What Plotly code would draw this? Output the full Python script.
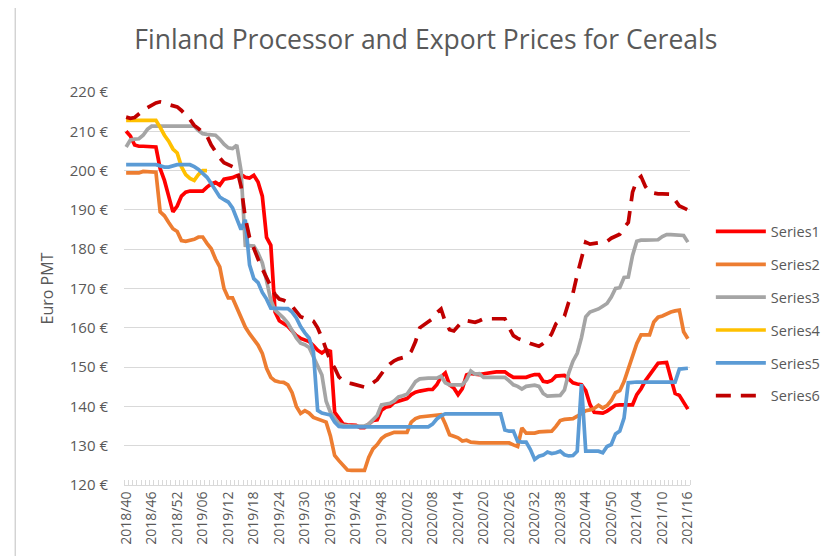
import plotly.graph_objects as go

# week labels 2018/40 .. 2021/16 (52 weeks per year)
weeks = ([f"2018/{w:02d}" for w in range(40, 53)]
         + [f"2019/{w:02d}" for w in range(1, 53)]
         + [f"2020/{w:02d}" for w in range(1, 53)]
         + [f"2021/{w:02d}" for w in range(1, 17)])

series1 = [210, 208.8, 206.5, 206.2, 206.2, 206.2, 206.2, 206, 200.5, 197.5,
           193.5, 189.5, 191, 193.5, 194.5, 194.8, 194.8, 194.8, 194.8, 195.8,
           196.6, 197, 196.3, 197.8, 198, 198.2, 198.7, 199, 198.3, 198.1,
           198.8, 197.1, 193.5, 183, 181, 164, 161.8, 161.2, 160.4, 159.2,
           158, 157.3, 157, 156.5, 155.5, 154.3, 153.6, 154.4, 154, 138.5,
           137, 135.5, 135.3, 135.3, 135.2, 134.6, 134.6, 135.5, 136.4, 136.6,
           139, 139.8, 140, 141, 141.4, 141.6, 142, 143, 143.6, 143.9,
           144.2, 144.3, 144.3, 145.5, 147.5, 148.5, 145.5, 144.7, 143, 144.5,
           148, 148.4, 148.2, 148.1, 148.3, 148.5, 148.7, 148.8, 148.8, 148.8,
           148, 147.4, 147.4, 147.4, 147.4, 147.8, 148.1, 148.1, 146.4, 146.2,
           146.6, 147.7, 147.8, 147.9, 147, 146, 145.7, 145.5, 144, 140.5,
           138.5, 138.3, 138.3, 138.8, 139.6, 140.3, 140.4, 140.4, 140.4, 140.4,
           143, 144.5, 146.5, 148, 149.5, 151, 151.1, 151.2, 147.2, 143.3,
           142.8, 141.2, 139.3]

series2 = [199.4, 199.4, 199.4, 199.4, 199.8, 199.8, 199.8, 199.6, 189.5, 188.5,
           186.8, 185.2, 184.5, 182.2, 182, 182.2, 182.5, 183.1, 183.1, 181.5,
           180.1, 177.5, 175.5, 170, 167.6, 167.6, 165, 162.5, 160.2, 158.5,
           157.2, 155.6, 153.5, 149.7, 147.4, 146.5, 146.2, 146.1, 145.5, 143.5,
           140, 138.2, 138.9, 138.3, 137.2, 136.8, 136.6, 136, 132.5, 127.5,
           126.2, 125, 123.8, 123.7, 123.7, 123.7, 123.7, 127, 129.2, 130.3,
           131.8, 132.6, 133.1, 133.4, 133.4, 133.4, 133.4, 136, 136.9, 137.3,
           137.4, 137.5, 137.6, 137.8, 137.9, 135.5, 132.8, 132.4, 132, 131.2,
           131.4, 130.9, 130.7, 130.7, 130.7, 130.7, 130.7, 130.7, 130.7, 130.7,
           130.7, 130.2, 129.8, 134.5, 133.2, 133.2, 133.2, 133.5, 133.6, 133.7,
           133.7, 134.9, 136.4, 136.7, 136.8, 136.9, 137.5, 138.3, 138.9, 139.1,
           139.5, 140.3, 139.6, 140.2, 141.5, 143.5, 144, 146.3, 149.5, 153,
           156, 158.2, 158.2, 158.2, 161.5, 162.7, 163, 163.6, 164, 164.3,
           164.5, 159, 157.2]

series3 = [206, 207.8, 208, 208.1, 209, 210.5, 211.3, 211.3, 211.3, 211.3,
           211.3, 211.3, 211.3, 211.3, 211.3, 211.5, 211.3, 210.2, 209.4, 209.2,
           209.1, 209, 208, 206.7, 205.8, 205.6, 206.5, 200, 181, 180.9,
           180.8, 179, 176.5, 172, 167, 164.5, 163.6, 162.5, 161.2, 159.2,
           157.4, 156.1, 155.7, 155, 152.5, 150.3, 148, 141.3, 138.5, 137,
           135.6, 135.2, 135, 135, 135, 135, 135, 135.5, 136.6, 137.7,
           140.4, 140.5, 140.8, 141.4, 142.4, 142.7, 143.1, 144.7, 146.3, 147,
           147.2, 147.2, 147.2, 147.2, 147.7, 146, 145.5, 145.5, 145.5, 145.5,
           146.8, 149, 148.2, 148.3, 147.4, 147.4, 147.4, 147.4, 147.4, 147.4,
           146.5, 145.5, 145.1, 144.4, 145.1, 145.3, 145.4, 145.1, 143.3, 142.6,
           142.6, 142.6, 142.8, 144.2, 148.5, 151.5, 153.5, 157.5, 162.8, 164,
           164.4, 164.8, 165.5, 166.2, 167.8, 170, 170.2, 172.8, 172.9, 178.4,
           182, 182.3, 182.3, 182.3, 182.3, 182.4, 183.2, 183.7, 183.7, 183.7,
           183.7, 183.5, 181.8]

series4 = [212.8, 212.8, 212.8, 212.8, 212.8, 212.8, 212.8, 212.8, 211, 209,
           207.5, 205.5, 204.5, 201, 199, 198, 197.5, 199, 200, 200] + [None] * 113

series5 = [201.5, 201.5, 201.5, 201.5, 201.5, 201.5, 201.5, 201.5, 201.2, 200.9,
           200.9, 201.3, 201.5, 201.5, 201.5, 201.5, 201, 200.3, 199.3, 198.3,
           196.7, 195, 193.3, 192.6, 192, 190.5, 188, 185, 187.5, 176,
           172.5, 171.5, 169, 167.3, 165, 164.9, 164.9, 164.9, 164.9, 164,
           162.5, 160.3, 158.7, 157.4, 154, 139, 138.3, 138, 137.8, 136,
           134.9, 134.8, 134.8, 134.8, 134.8, 134.8, 134.8, 134.8, 134.8, 134.8,
           134.8, 134.8, 134.8, 134.8, 134.8, 134.8, 134.8, 134.8, 134.8, 134.8,
           134.8, 134.8, 135.5, 136.8, 137.6, 138.1, 138.1, 138.1, 138.1, 138.1,
           138.1, 138.1, 138.1, 138.1, 138.1, 138.1, 138.1, 138.1, 138.1, 134,
           133.7, 133.7, 131.1, 130.9, 130.9, 129, 126.5, 127.3, 127.6, 128.4,
           128, 128.2, 128.6, 127.7, 127.4, 127.5, 128.6, 145.7, 128.6, 128.6,
           128.6, 128.6, 128.2, 129.8, 130.3, 133, 133.7, 137, 146, 146.2,
           146.2, 146.2, 146.2, 146.2, 146.2, 146.2, 146.2, 146.2, 146.2, 146.2,
           149.5, 149.6, 149.7, 150]

series6 = [213.6, 213.3, 213.5, 214.5, 215.3, 216, 216.6, 217.2, 217.5, 217.3,
           216.8, 216.4, 216.2, 215.3, 214.2, 213, 211.5, 210.7, 209.6, 208.8,
           206.5, 204.8, 203.2, 202, 201.5, 201, 200.5, 196, 188, 183,
           180, 177.5, 175, 172.5, 170.5, 168.5, 167.3, 167, 166.5, 165.5,
           164, 162.8, 162.4, 162.3, 161.7, 160, 157.5, 154.4, 151.5, 149.8,
           147.5, 146.5, 146, 145.8, 145.5, 145, 144.9, 145.5, 146, 146.8,
           148.5, 149.8, 150.8, 151.6, 152.1, 152.4, 152.7, 154, 156.5, 160,
           160.8, 161.5, 162.3, 163.8, 164.8, 161.5, 159.5, 159.2, 160.5, 161.6,
           161.8, 161.6, 161.4, 161.8, 162.3, 162.3, 162.3, 162.3, 162.3, 162.3,
           160, 158, 157.3, 157, 156.5, 156, 155.7, 155.3, 156, 156.8,
           158.5, 161, 162, 163, 166.5, 168.8, 173.5, 177.5, 181.8, 181.3,
           181.5, 181.8, 181.8, 182, 182.8, 183.2, 183.8, 185.5, 186.8, 194.5,
           197.5, 198.5, 196, 194.5, 194.2, 194.1, 194.1, 194.1, 194, 192.5,
           191, 190.5, 190]

names = ["Series1", "Series2", "Series3", "Series4", "Series5", "Series6"]
colors = ["#FF0000", "#ED7D31", "#A5A5A5", "#FFC000", "#5B9BD5", "#C00000"]
values = [series1, series2, series3, series4, series5, series6]

x = list(range(len(weeks)))
txt = "#595959"
font = "Open Sans"

fig = go.Figure()
for name, col, ys in zip(names, colors, values):
    fig.add_trace(go.Scatter(
        x=x, y=ys, mode="lines", name=name, legendgroup=name,
        line=dict(color=col, width=3.7, dash="15px,10px" if name == "Series6" else "solid"),
    ))

fig.update_layout(
    width=829, height=556,
    margin=dict(l=116, r=146, t=84, b=79),
    paper_bgcolor="white", plot_bgcolor="white",
    font=dict(family=font, color=txt, size=14),
    title=dict(text="Finland Processor and Export Prices for Cereals",
               x=0.504, xanchor="center", y=0.943, yanchor="middle",
               font=dict(size=26.5, color=txt, family=font)),
    legend=dict(x=1.035, xanchor="left", y=0.435, yanchor="middle",
                font=dict(size=14.5, color=txt), tracegroupgap=11,
                itemwidth=50, bgcolor="rgba(0,0,0,0)"),
    showlegend=True,
    xaxis=dict(
        range=[-0.5, len(weeks) - 0.5],
        tickvals=x[::6], ticktext=weeks[::6],
        tickangle=-90, tickfont=dict(size=14, color=txt),
        showgrid=False, zeroline=False,
        showline=True, linecolor="#D9D9D9", linewidth=1,
        ticks="", minor=dict(tick0=-0.5, dtick=1, ticks="inside", ticklen=5,
                             tickcolor="#D9D9D9", showgrid=False),
    ),
    yaxis=dict(
        range=[120, 220], dtick=10, ticksuffix=" €",
        tickfont=dict(size=15, color=txt),
        showgrid=True, gridcolor="#D9D9D9", gridwidth=1,
        zeroline=False, showline=False, ticklabelstandoff=15,
        title=dict(text="Euro PMT", font=dict(size=16, color=txt), standoff=12),
    ),
)

# outer chart frame (left and bottom edges visible)
fig.add_shape(type="line", xref="paper", yref="paper",
              x0=(7 - 116) / 567, x1=(7 - 116) / 567, y0=(477 - 555) / 393, y1=1.22,
              line=dict(color="#BFBFBF", width=1))
fig.add_shape(type="line", xref="paper", yref="paper",
              x0=(7 - 116) / 567, x1=1.26, y0=(477 - 555) / 393, y1=(477 - 555) / 393,
              line=dict(color="#BFBFBF", width=1))

fig.write_html("out.html")
